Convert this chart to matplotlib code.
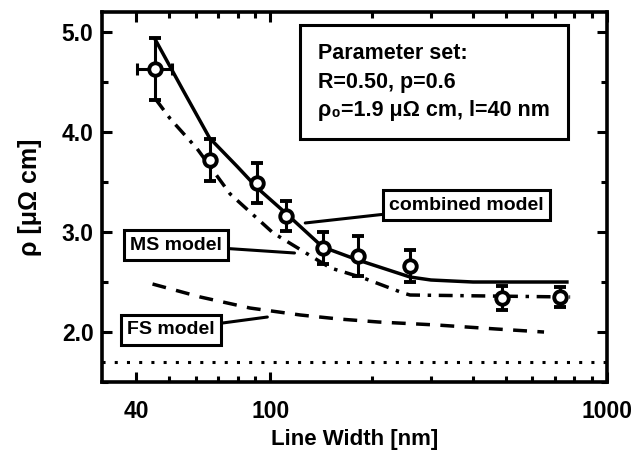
import matplotlib
matplotlib.use("Agg")
import matplotlib.pyplot as plt
from matplotlib.ticker import FixedLocator, NullFormatter, MultipleLocator

plt.rcParams["font.family"] = ["Liberation Sans", "DejaVu Sans"]
plt.rcParams["font.weight"] = "bold"

# measured points (line width in nm, resistivity in uOhm cm)
width_nm = [45.6, 66, 91.5, 111, 143, 182, 260, 488, 726]
rho_meas = [4.63, 3.72, 3.49, 3.16, 2.84, 2.76, 2.66, 2.34, 2.35]
rho_err = [0.31, 0.21, 0.20, 0.15, 0.16, 0.20, 0.16, 0.12, 0.10]
width_err_first = 5.5

# model curves
comb_x = [45.6, 55, 66, 80, 91.5, 111, 143, 182, 260, 300, 400, 760]
comb_y = [4.92, 4.42, 3.94, 3.65, 3.44, 3.19, 2.85, 2.72, 2.55, 2.52, 2.50, 2.50]

ms_x = [45.6, 50.5, 60.7, 76, 102, 138, 151, 189, 248, 260, 777]
ms_y = [4.33, 4.13, 3.83, 3.38, 2.99, 2.72, 2.64, 2.54, 2.39, 2.37, 2.35]

fs_x = [44.7, 62, 87, 123, 160, 210, 313, 470, 650]
fs_y = [2.48, 2.35, 2.24, 2.17, 2.13, 2.10, 2.07, 2.03, 2.00]

rho_0 = 1.7

param_text = "Parameter set:\nR=0.50, p=0.6\nρ₀=1.9 μΩ cm, l=40 nm"

fig = plt.figure(figsize=(6.33, 4.57), dpi=100)
ax = fig.add_axes([0.161, 0.164, 0.798, 0.810])

ax.axhline(rho_0, color="black", lw=2.2, linestyle=(0, (1, 3)))
ax.plot(fs_x, fs_y, color="black", lw=2.5, linestyle=(0, (4, 3)))
ax.plot(ms_x, ms_y, color="black", lw=2.5, linestyle=(0, (4, 2.2, 1, 2.2)))
ax.plot(comb_x, comb_y, color="black", lw=2.5)

ax.errorbar(width_nm, rho_meas, yerr=rho_err, fmt="o", color="black",
            mfc="white", mec="black", mew=2.8, ms=9, elinewidth=2.2,
            capsize=4.5, capthick=2.2, zorder=5)
ax.errorbar(width_nm[:1], rho_meas[:1], xerr=width_err_first, fmt="none",
            ecolor="black", elinewidth=2.2, capsize=4.5, capthick=2.2, zorder=4)

ax.set_xscale("log")
ax.set_xlim(10 ** 1.5, 1000)
ax.set_ylim(1.5, 5.2)

ax.xaxis.set_major_locator(FixedLocator([40, 100, 1000]))
ax.xaxis.set_minor_locator(FixedLocator([50, 60, 70, 80, 90, 200, 300, 400,
                                         500, 600, 700, 800, 900]))
ax.xaxis.set_minor_formatter(NullFormatter())
ax.set_xticklabels(["40", "100", "1000"])
ax.yaxis.set_major_locator(FixedLocator([2, 3, 4, 5]))
ax.yaxis.set_minor_locator(MultipleLocator(0.5))
ax.set_yticklabels(["2.0", "3.0", "4.0", "5.0"])

ax.tick_params(which="both", direction="in", top=True, right=True,
               width=2.2, labelsize=16.5)
ax.tick_params(axis="x", which="major", length=7, pad=13)
ax.tick_params(axis="y", which="major", length=7, pad=6)
ax.tick_params(which="minor", length=4)
for s in ax.spines.values():
    s.set_linewidth(2.6)

ax.set_xlabel("Line Width [nm]", fontsize=16, fontweight="bold", labelpad=4)
ax.set_ylabel("ρ [μΩ cm]", fontsize=18, fontweight="bold", labelpad=14)

box = dict(boxstyle="square,pad=0.32", fc="white", ec="black", lw=2.2)
leader = dict(arrowstyle="-", lw=2.2, color="black", shrinkA=0, shrinkB=0)

ax.text(0.428, 0.915, param_text, transform=ax.transAxes,
        ha="left", va="top", fontsize=15.5, fontweight="bold", linespacing=1.45,
        bbox=dict(boxstyle="square,pad=0.85", fc="white", ec="black", lw=2.2))

ax.annotate("combined model", xy=(127, 3.09), xytext=(0.721, 0.478),
            textcoords="axes fraction", ha="center", va="center",
            fontsize=14, fontweight="bold", bbox=box, arrowprops=leader)
ax.annotate("MS model", xy=(118, 2.79), xytext=(0.147, 0.370),
            textcoords="axes fraction", ha="center", va="center",
            fontsize=14, fontweight="bold", bbox=box, arrowprops=leader)
ax.annotate("FS model", xy=(98, 2.15), xytext=(0.137, 0.141),
            textcoords="axes fraction", ha="center", va="center",
            fontsize=14, fontweight="bold", bbox=box, arrowprops=leader)

fig.savefig("out.png", dpi=100)
